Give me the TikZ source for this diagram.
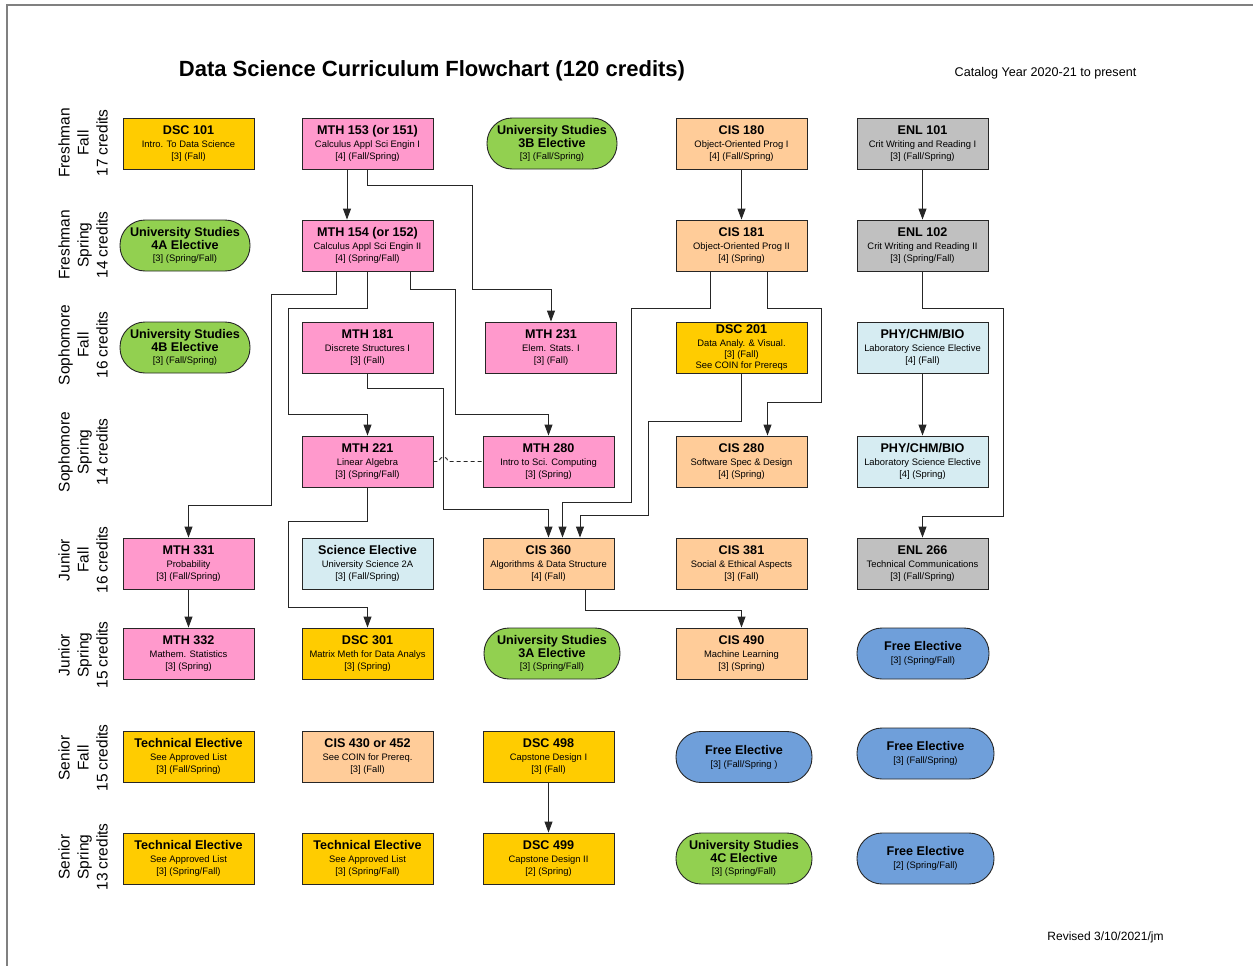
\documentclass[tikz,border=0pt]{standalone}
\usepackage{fontspec}
\setmainfont{Liberation Sans}
\usetikzlibrary{arrows.meta}
\definecolor{cyel}{HTML}{FFCC00}
\definecolor{cpink}{HTML}{FF99CC}
\definecolor{cgreen}{HTML}{92D050}
\definecolor{corange}{HTML}{FFCC99}
\definecolor{cgray}{HTML}{C0C0C0}
\definecolor{clblue}{HTML}{D6ECF2}
\definecolor{cblue}{HTML}{6F9FDA}
\newcommand\hdf{\bfseries\fontsize{12.6}{13}\selectfont}
\newcommand\sbf{\fontsize{9.4}{12}\selectfont}
\newcommand\crs[3]{{\hdf #1}\\[1pt]{#2}\\{#3}}
\newcommand\ele[3]{{\hdf #1}\\[1.5pt]{\hdf #2}\\{#3}}
\begin{document}
\begin{tikzpicture}[x=1pt,y=-1pt,
  box/.style={draw=black!85, line width=0.9pt, minimum width=131pt, minimum height=51pt, inner sep=1pt, align=center, font=\sbf},
  pill/.style={box, rounded corners=25pt},
  rowlab/.style={rotate=90, align=center, font=\fontsize{15.5}{19}\selectfont},
  conn/.style={draw=black!85, line width=0.9pt},
  arr/.style={conn, -{Triangle[length=11pt,width=8pt]}},
]
\useasboundingbox (0,0) rectangle (1253,966);
\draw[gray, line width=1.5pt] (7,966) -- (7,5) -- (1253,5);

\node[font=\bfseries\fontsize{22}{24}\selectfont] (title) at (432,71) {Data Science Curriculum Flowchart (120 credits)};
\node[font=\fontsize{12.6}{14}\selectfont] (catalog) at (1045.5,73.5) {Catalog Year 2020-21 to present};
\node[font=\fontsize{12}{14}\selectfont] (revised) at (1105.5,937.5) {Revised 3/10/2021/jm};

% row labels
\node[rowlab] (lab1) at (83,143) {Freshman\\Fall\\17 credits};
\node[rowlab] (lab2) at (83,245) {Freshman\\Spring\\14 credits};
\node[rowlab] (lab3) at (83,345) {Sophomore\\Fall\\16 credits};
\node[rowlab] (lab4) at (83,452) {Sophomore\\Spring\\14 credits};
\node[rowlab] (lab5) at (83,560) {Junior\\Fall\\16 credits};
\node[rowlab] (lab6) at (83,655) {Junior\\Spring\\15 credits};
\node[rowlab] (lab7) at (83,758) {Senior\\Fall\\15 credits};
\node[rowlab] (lab8) at (83,857) {Senior\\Spring\\13 credits};

% row 1
\node[box, fill=cyel] (dsc101) at (188.5,143.5) {\crs{DSC 101}{Intro. To Data Science}{[3] (Fall)}};
\node[box, fill=cpink] (mth153) at (367.5,143.5) {\crs{MTH 153 (or 151)}{Calculus Appl Sci Engin I}{[4] (Fall/Spring)}};
\node[pill, fill=cgreen, minimum width=130pt] (us3b) at (552,143.5) {\ele{University Studies}{3B Elective}{[3] (Fall/Spring)}};
\node[box, fill=corange] (cis180) at (741.5,143.5) {\crs{CIS 180}{Object-Oriented Prog I}{[4] (Fall/Spring)}};
\node[box, fill=cgray] (enl101) at (922.5,143.5) {\crs{ENL 101}{Crit Writing and Reading I}{[3] (Fall/Spring)}};

% row 2
\node[pill, fill=cgreen, minimum width=130pt] (us4a) at (185,245.5) {\ele{University Studies}{4A Elective}{[3] (Spring/Fall)}};
\node[box, fill=cpink] (mth154) at (367.5,245.5) {\crs{MTH 154 (or 152)}{Calculus Appl Sci Engin II}{[4] (Spring/Fall)}};
\node[box, fill=corange] (cis181) at (741.5,245.5) {\crs{CIS 181}{Object-Oriented Prog II}{[4] (Spring)}};
\node[box, fill=cgray] (enl102) at (922.5,245.5) {\crs{ENL 102}{Crit Writing and Reading II}{[3] (Spring/Fall)}};

% row 3
\node[pill, fill=cgreen, minimum width=130pt] (us4b) at (185,347.5) {\ele{University Studies}{4B Elective}{[3] (Fall/Spring)}};
\node[box, fill=cpink] (mth181) at (367.5,347.5) {\crs{MTH 181}{Discrete Structures I}{[3] (Fall)}};
\node[box, fill=cpink] (mth231) at (551,347.5) {\crs{MTH 231}{Elem. Stats. I}{[3] (Fall)}};
\node[box, fill=cyel, font=\fontsize{9.4}{11}\selectfont] (dsc201) at (741.5,347.5) {{\hdf DSC 201}\\[1.5pt]{Data Analy. \& Visual.}\\{[3] (Fall)}\\{See COIN for Prereqs}};
\node[box, fill=clblue] (phy1) at (922.5,347.5) {\crs{PHY/CHM/BIO}{Laboratory Science Elective}{[4] (Fall)}};

% row 4
\node[box, fill=cpink] (mth221) at (367.5,461.5) {\crs{MTH 221}{Linear Algebra}{[3] (Spring/Fall)}};
\node[box, fill=cpink] (mth280) at (548.5,461.5) {\crs{MTH 280}{Intro to Sci. Computing}{[3] (Spring)}};
\node[box, fill=corange] (cis280) at (741.5,461.5) {\crs{CIS 280}{Software Spec \& Design}{[4] (Spring)}};
\node[box, fill=clblue] (phy2) at (922.5,461.5) {\crs{PHY/CHM/BIO}{Laboratory Science Elective}{[4] (Spring)}};

% row 5
\node[box, fill=cpink] (mth331) at (188.5,563.5) {\crs{MTH 331}{Probability}{[3] (Fall/Spring)}};
\node[box, fill=clblue] (scie) at (367.5,563.5) {\crs{Science Elective}{University Science 2A}{[3] (Fall/Spring)}};
\node[box, fill=corange] (cis360) at (548.5,563.5) {\crs{CIS 360}{Algorithms \& Data Structure}{[4] (Fall)}};
\node[box, fill=corange] (cis381) at (741.5,563.5) {\crs{CIS 381}{Social \& Ethical Aspects}{[3] (Fall)}};
\node[box, fill=cgray] (enl266) at (922.5,563.5) {\crs{ENL 266}{Technical Communications}{[3] (Fall/Spring)}};

% row 6
\node[box, fill=cpink] (mth332) at (188.5,653.5) {\crs{MTH 332}{Mathem. Statistics}{[3] (Spring)}};
\node[box, fill=cyel] (dsc301) at (367.5,653.5) {\crs{DSC 301}{Matrix Meth for Data Analys}{[3] (Spring)}};
\node[pill, fill=cgreen, minimum width=136pt] (us3a) at (552,653.5) {\ele{University Studies}{3A Elective}{[3] (Spring/Fall)}};
\node[box, fill=corange] (cis490) at (741.5,653.5) {\crs{CIS 490}{Machine Learning}{[3] (Spring)}};
\node[pill, fill=cblue, minimum width=132pt] (free1) at (923,653.5) {{\hdf Free Elective}\\[1pt]{[3] (Spring/Fall)}};

% row 7
\node[box, fill=cyel] (te1) at (188.5,756.5) {\crs{Technical Elective}{See Approved List}{[3] (Fall/Spring)}};
\node[box, fill=corange] (cis430) at (367.5,756.5) {\crs{CIS 430 or 452}{See COIN for Prereq.}{[3] (Fall)}};
\node[box, fill=cyel] (dsc498) at (548.5,756.5) {\crs{DSC 498}{Capstone Design I}{[3] (Fall)}};
\node[pill, fill=cblue, minimum width=136pt] (free2) at (744,757) {{\hdf Free Elective}\\[1pt]{[3] (Fall/Spring )}};
\node[pill, fill=cblue, minimum width=137pt] (free3) at (925.5,753.5) {{\hdf Free Elective}\\[1pt]{[3] (Fall/Spring)}};

% row 8
\node[box, fill=cyel] (te2) at (188.5,858.5) {\crs{Technical Elective}{See Approved List}{[3] (Spring/Fall)}};
\node[box, fill=cyel] (te3) at (367.5,858.5) {\crs{Technical Elective}{See Approved List}{[3] (Spring/Fall)}};
\node[box, fill=cyel] (dsc499) at (548.5,858.5) {\crs{DSC 499}{Capstone Design II}{[2] (Spring)}};
\node[pill, fill=cgreen, minimum width=136pt] (us4c) at (744,858.5) {\ele{University Studies}{4C Elective}{[3] (Spring/Fall)}};
\node[pill, fill=cblue, minimum width=137pt] (free4) at (925.5,858.5) {{\hdf Free Elective}\\[1pt]{[2] (Spring/Fall)}};

% connectors
\draw[arr] ([xshift=-20.5pt]mth153.south) -- ([xshift=-20.5pt]mth154.north);
\draw[arr] (mth153.south) |- (472,185) -- (472,289) -| (mth231.north);
\draw[arr] ([xshift=-31.5pt]mth154.south) |- (271,294) -- (271,505) -| (mth331.north);
\draw[arr] (mth154.south) |- (288,308) -- (288,414) -| (mth221.north);
\draw[arr] ([xshift=42.5pt]mth154.south) |- (455,289) -- (455,414) -| (mth280.north);
\draw[arr] (mth181.south) |- (443.5,388) -- (443.5,509) -| (cis360.north);
\draw[arr] ([xshift=-31.5pt]cis181.south) |- (631,308) -- (631,502) -| ([xshift=14pt]cis360.north);
\draw[arr] (dsc201.south) |- (648,421.5) -- (648,515.5) -| ([xshift=31.5pt]cis360.north);
\draw[arr] ([xshift=26pt]cis181.south) |- (821,308) -- (821,402) -| ([xshift=26pt]cis280.north);
\draw[arr] (cis180) -- (cis181);
\draw[arr] (enl101) -- (enl102);
\draw[arr] (enl102.south) |- (1003,308) -- (1003,516.5) -| (enl266.north);
\draw[arr] (phy1) -- (phy2);
\draw[arr] (mth221.south) |- (288,521) -- (288,607) -| (dsc301.north);
\draw[arr] (mth331) -- (mth332);
\draw[arr] ([xshift=37pt]cis360.south) -- ++(0,21) -| (cis490.north);
\draw[arr] (dsc498) -- (dsc499);
\draw[conn, dashed, dash pattern=on 4pt off 3pt] (mth221.east) -- (439,461.5) arc (180:360:4.5) -- (mth280.west);
\end{tikzpicture}
\end{document}
